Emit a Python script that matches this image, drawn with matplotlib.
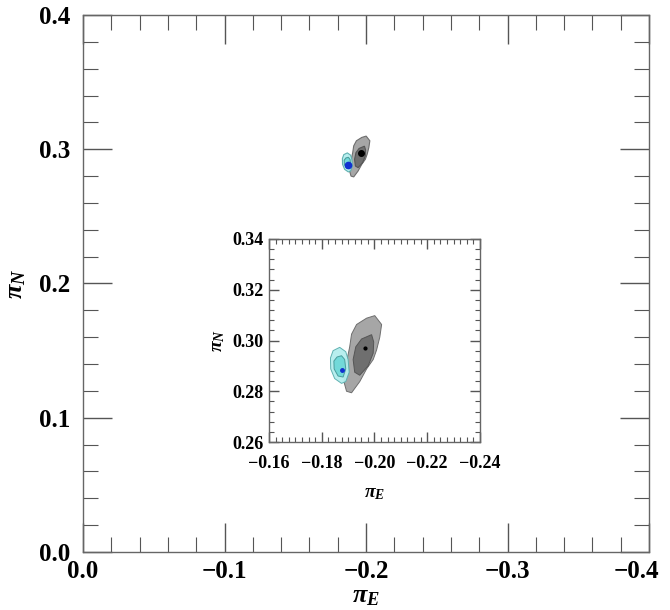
import matplotlib
matplotlib.use("Agg")
import matplotlib.pyplot as plt
from matplotlib.ticker import MultipleLocator, FuncFormatter

plt.rcParams["font.family"] = ["Liberation Serif", "DejaVu Serif"]
plt.rcParams["font.weight"] = "bold"
plt.rcParams["mathtext.fontset"] = "custom"
plt.rcParams["mathtext.rm"] = "Liberation Serif:bold"
plt.rcParams["mathtext.it"] = "Liberation Serif:italic:bold"

# --- data (pi_E, pi_N), contour outlines ---
best_gray = (-0.1965, 0.2969)
best_blue = (-0.1876, 0.2884)

gray_outer_x = [-0.2001, -0.2027, -0.2020, -0.2008, -0.1995, -0.1970, -0.1944, -0.1913,
                -0.1894, -0.1884, -0.1891, -0.1906, -0.1913, -0.1932, -0.1970]
gray_outer_y = [0.3098, 0.3063, 0.3013, 0.2963, 0.2925, 0.2888, 0.2838, 0.2794,
                0.2800, 0.2838, 0.2900, 0.2975, 0.3025, 0.3063, 0.3088]

gray_inner_x = [-0.1989, -0.1997, -0.1995, -0.1976, -0.1944, -0.1925, -0.1919, -0.1929, -0.1951]
gray_inner_y = [0.3023, 0.2994, 0.2950, 0.2900, 0.2863, 0.2875, 0.2925, 0.2975, 0.3006]

cyan_outer_x = [-0.1868, -0.1891, -0.1900, -0.1904, -0.1891, -0.1875, -0.1849, -0.1834, -0.1833, -0.1843]
cyan_outer_y = [0.2973, 0.2956, 0.2925, 0.2875, 0.2838, 0.2831, 0.2850, 0.2888, 0.2931, 0.2960]

cyan_inner_x = [-0.1875, -0.1887, -0.1891, -0.1881, -0.1862, -0.1847, -0.1846, -0.1858]
cyan_inner_y = [0.2940, 0.2925, 0.2888, 0.2856, 0.2860, 0.2888, 0.2919, 0.2935]

main_xlim = (0.0, -0.4)
main_ylim = (0.0, 0.4)
inset_xlim = (-0.16, -0.24)
inset_ylim = (0.26, 0.34)


def fmt_val(v, ndig):
    s = f"{abs(v):.{ndig}f}"
    return ("\u2212" + s) if v < -1e-9 else s


def minus_fmt(ndig, skip=None):
    # long minus sign like the original IDL-style labels
    def f(v, pos):
        if skip is not None and abs(v - skip) < 1e-9:
            return ""
        return fmt_val(v, ndig)
    return FuncFormatter(f)


def draw_contours(ax, lw, dot_size_gray, dot_size_blue):
    ax.fill(gray_outer_x, gray_outer_y, facecolor="#a6a6a6", edgecolor="#6e6e6e", lw=lw, zorder=2)
    ax.fill(gray_inner_x, gray_inner_y, facecolor="#6f6f6f", edgecolor="#555555", lw=lw, zorder=3)
    ax.fill(cyan_outer_x, cyan_outer_y, facecolor="#b4eeee", edgecolor="#5aaeae", lw=lw,
            alpha=0.95, zorder=4)
    ax.fill(cyan_inner_x, cyan_inner_y, facecolor="#72d9d9", edgecolor="#4a9c9c", lw=lw, zorder=5)
    ax.plot(*best_gray, "o", color="black", ms=dot_size_gray, zorder=6)
    ax.plot(*best_blue, "o", color="#1030d0", ms=dot_size_blue, zorder=6)


def style_axes(ax, maj_len, min_len, lsize, pad):
    for s in ax.spines.values():
        s.set_color("#666666")
        s.set_linewidth(1.0)
    ax.tick_params(which="both", direction="in", top=True, right=True,
                   color="#555555", labelsize=lsize, pad=pad)
    ax.tick_params(which="major", length=maj_len, width=1.0)
    ax.tick_params(which="minor", length=min_len, width=0.8)


fig = plt.figure(figsize=(6.7, 6.1), dpi=100)

ax = fig.add_axes([0.1239, 0.0951, 0.8448, 0.8803])
draw_contours(ax, 0.8, 4, 4.5)
ax.set_xlim(*main_xlim)
ax.set_ylim(*main_ylim)
ax.xaxis.set_major_locator(MultipleLocator(0.1))
ax.xaxis.set_minor_locator(MultipleLocator(0.02))
ax.yaxis.set_major_locator(MultipleLocator(0.1))
ax.yaxis.set_minor_locator(MultipleLocator(0.02))
ax.xaxis.set_major_formatter(minus_fmt(1, skip=main_xlim[1]))
ax.yaxis.set_major_formatter(minus_fmt(1))
style_axes(ax, 21, 11, 18, 9)
ax.tick_params(axis="x", pad=6)
ax.set_xlabel(r"$\pi_E$", fontsize=19, labelpad=2)
ax.set_ylabel(r"$\pi_N$", fontsize=19, labelpad=8)

# the last x label is pulled in from the figure edge, as in the original
ax.annotate(fmt_val(main_xlim[1], 1), xy=(main_xlim[1], 0), xycoords=("data", "axes fraction"),
            xytext=(-9, -6), textcoords="offset points", ha="center", va="top",
            fontsize=18, fontweight="bold")

axi = fig.add_axes([0.4015, 0.2754, 0.3149, 0.3328])
draw_contours(axi, 0.7, 2, 2.5)
axi.set_xlim(*inset_xlim)
axi.set_ylim(*inset_ylim)
axi.xaxis.set_major_locator(MultipleLocator(0.02))
axi.xaxis.set_minor_locator(MultipleLocator(0.0025))
axi.yaxis.set_major_locator(MultipleLocator(0.02))
axi.yaxis.set_minor_locator(MultipleLocator(0.004))
axi.xaxis.set_major_formatter(minus_fmt(2))
axi.yaxis.set_major_formatter(minus_fmt(2))
style_axes(axi, 7, 3.5, 13, 4)
axi.tick_params(axis="x", pad=9)
axi.set_xlabel(r"$\pi_E$", fontsize=14, labelpad=10)
axi.set_ylabel(r"$\pi_N$", fontsize=14, labelpad=4)

fig.savefig("out.png", dpi=100)
